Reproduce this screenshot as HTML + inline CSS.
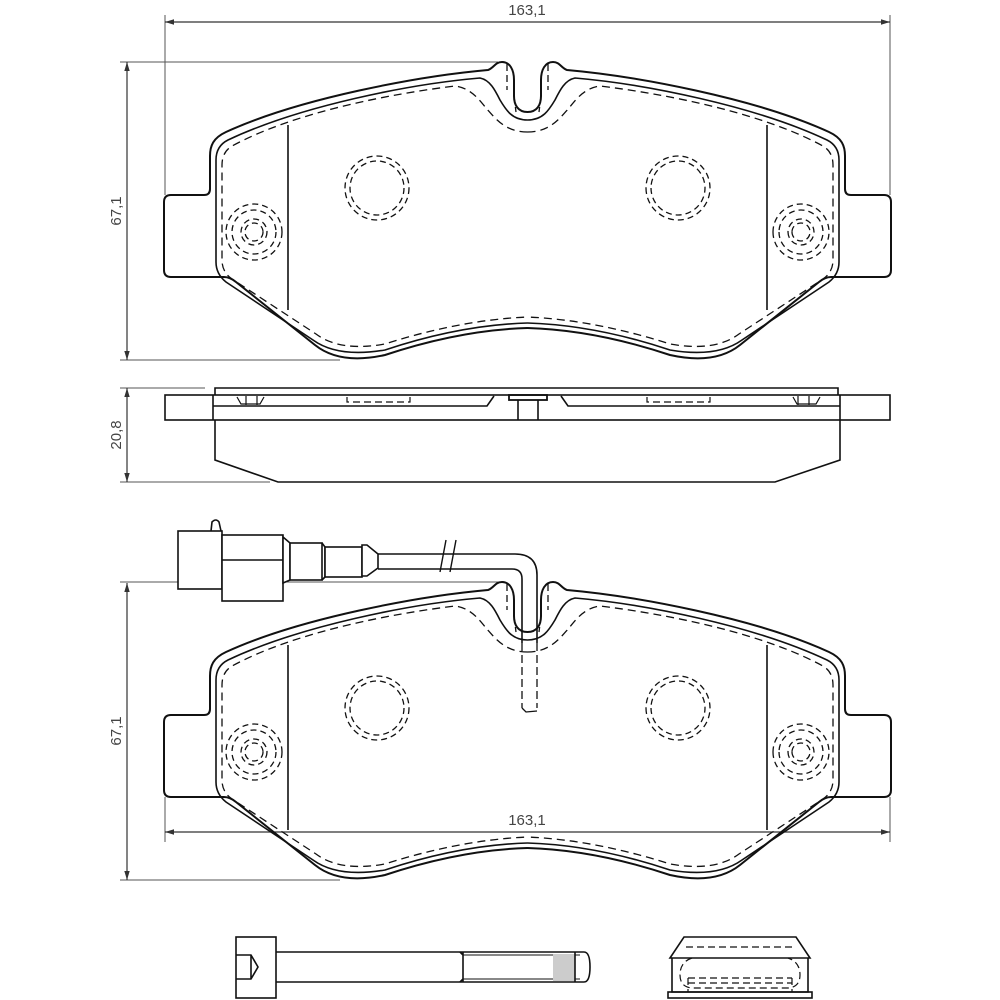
<!DOCTYPE html>
<html><head><meta charset="utf-8"><style>
html,body{margin:0;padding:0;background:#fff;}
svg{display:block;}
text{font-family:"Liberation Sans",sans-serif;font-size:15px;fill:#444;}
</style></head><body>
<svg width="1000" height="1000" viewBox="0 0 1000 1000" xmlns="http://www.w3.org/2000/svg">
<defs>
<marker id="ar" viewBox="0 0 10 10" refX="10" refY="5" markerWidth="9" markerHeight="9" orient="auto-start-reverse" markerUnits="userSpaceOnUse"><path d="M0,2 L10,5 L0,8 Z" fill="#333"/></marker>
<g id="half" fill="none" stroke="#111">
  <path stroke-width="2" d="M527.5,112 C518,112 514,105 514,96 L514,80 C514,70 510,62 502,62 C495,62 494,68 488,70 C420,76 300,98 226,132 C213,138 210,146 210,156 L210,189 Q210,195 204,195 L171,195 Q164,195 164,202 L164,270 Q164,277 171,277 L224,277 Q230,277 236,282 L315,345 Q340,365 385,355 Q460,330 527.5,328"/>
  <path stroke-width="1.6" d="M527.5,120 C512,120 506,110 500,100 C495,90 490,80 480,78 C410,84 300,106 228,140 Q216,146 216,160 L216,262 Q216,274 226,282 L313,340 Q338,358 385,350 Q460,325 527.5,323"/>
  <path stroke-width="1.3" stroke-dasharray="8,5" d="M527.5,132 C505,132 495,118 486,108 C478,98 470,88 455,86 C390,94 295,112 232,146 Q222,152 222,165 L222,260 Q222,272 232,279 L316,334 Q340,352 385,344 Q460,320 527.5,317"/>
  <path stroke-width="1.3" stroke-dasharray="7,4" d="M507,64 L507,90 M514,96 L516,112"/>
  <path stroke-width="1.6" d="M288,125 L288,310"/>
  <g stroke-width="1.3" stroke-dasharray="6,4">
    <circle cx="377" cy="188" r="32"/><circle cx="377" cy="188" r="27"/>
    <circle cx="254" cy="232" r="28"/><circle cx="254" cy="232" r="22"/>
    <circle cx="254" cy="232" r="13"/><circle cx="254" cy="232" r="9"/>
  </g>
</g>
<g id="pad">
  <use href="#half"/>
  <use href="#half" transform="matrix(-1 0 0 1 1055 0)"/>
</g>
</defs>

<g stroke="#555" stroke-width="1" fill="none">
  <path d="M165,15 L165,195 M890,15 L890,195"/>
  <path d="M120,62 L498,62 M120,360 L340,360"/>
  <path d="M120,388 L205,388 M120,482 L270,482"/>
  <path d="M120,582 L500,582 M120,880 L340,880"/>
  <path d="M165,797 L165,842 M890,797 L890,842"/>
</g>
<g stroke="#333" stroke-width="1.2" fill="none">
  <line x1="165" y1="22" x2="890" y2="22" marker-start="url(#ar)" marker-end="url(#ar)"/>
  <line x1="127" y1="62" x2="127" y2="360" marker-start="url(#ar)" marker-end="url(#ar)"/>
  <line x1="127" y1="388" x2="127" y2="482" marker-start="url(#ar)" marker-end="url(#ar)"/>
  <line x1="127" y1="583" x2="127" y2="880" marker-start="url(#ar)" marker-end="url(#ar)"/>
  <line x1="165" y1="832" x2="890" y2="832" marker-start="url(#ar)" marker-end="url(#ar)"/>
</g>
<text x="527" y="15" text-anchor="middle">163,1</text>
<text x="527" y="825" text-anchor="middle">163,1</text>
<text transform="translate(121,211) rotate(-90)" text-anchor="middle">67,1</text>
<text transform="translate(121,435) rotate(-90)" text-anchor="middle">20,8</text>
<text transform="translate(121,731) rotate(-90)" text-anchor="middle">67,1</text>

<use href="#pad"/>
<use href="#pad" transform="translate(0,520)"/>

<g fill="none" stroke="#111" stroke-width="1.6">
  <rect x="165" y="395" width="725" height="25"/>
  <path d="M215,395 L215,388 L838,388 L838,395"/>
  <path d="M213,395 L213,420 M840,395 L840,420"/>
  <path d="M215,420 L215,460 L278,482 L775,482 L840,460 L840,420"/>
  <path d="M213,406 L487,406 L494,396 M840,406 L568,406 L561,396"/>
  <path d="M518,400 L518,420 M538,400 L538,420"/>
  <rect x="509" y="395" width="38" height="5" stroke-width="1.8"/>
  <path d="M237,397 L241,404 L260,404 L264,397 M793,397 L797,404 L816,404 L820,397" stroke-width="1.2"/>
  <path d="M246,396 L246,405 M257,396 L257,405 M798,396 L798,405 M809,396 L809,405" stroke-width="1.2"/>
  <path d="M347,397 L347,402 L410,402 L410,397 M647,397 L647,402 L710,402 L710,397" stroke-width="1.2" stroke-dasharray="7,4"/>
</g>

<g fill="#fff" stroke="#111" stroke-width="1.6">
  <path d="M211,531 L212,522 Q216,518 219,522 L221,531" fill="none"/>
  <rect x="178" y="531" width="44" height="58"/>
  <rect x="222" y="535" width="61" height="66"/>
  <path d="M222,560 L283,560" fill="none"/>
  <path d="M283,537 L290,543 L290,580 L283,583 Z"/>
  <rect x="290" y="543" width="32" height="37"/>
  <path d="M322,543 L325,547 L325,577 L322,580" fill="none"/>
  <rect x="325" y="547" width="37" height="30"/>
  <path d="M362,545 L367,545 L378,554 L378,568 L367,576 L362,576 Z"/>
  <path d="M378,554 L515,554 Q537,554 537,575 L537,643 M378,569 L512,569 Q522,569 522,579 L522,643" fill="none"/>
  <path d="M440,572 L446,540 M450,572 L456,540" fill="none" stroke-width="1.4"/>
  <path d="M522,643 L522,708 M537,643 L537,708" fill="none" stroke-width="1.3" stroke-dasharray="8,4"/>
  <path d="M522,708 L526,712 L537,711" fill="none" stroke-width="1.3"/>
</g>

<g fill="none" stroke="#111" stroke-width="1.6">
  <rect x="236" y="937" width="40" height="61"/>
  <path d="M236,955 L251,955 L258,967 L251,979 L236,979 M251,955 L251,979"/>
  <path d="M276,952 L584,952 Q590,952 590,967 Q590,982 584,982 L276,982"/>
  <path d="M463,952 L463,982 M460,952 L463,955 M460,982 L463,979"/>
  <path d="M463,955 L580,955 M463,979 L580,979" stroke-width="1"/>
  <rect x="553" y="954" width="22" height="27" fill="#ccc" stroke="none"/>
  <path d="M575,952 L575,982"/>
</g>

<g fill="none" stroke="#111" stroke-width="1.6">
  <path d="M670,958 L684,937 L796,937 L810,958 Z"/>
  <path d="M672,958 L672,992 L808,992 L808,958"/>
  <rect x="668" y="992" width="144" height="6"/>
  <g stroke-width="1.2" stroke-dasharray="7,4">
    <path d="M686,947 L795,947"/>
    <path d="M692,958 Q680,962 680,975 Q680,987 692,988 L788,988 Q800,987 800,975 Q800,962 788,958"/>
    <path d="M688,978 L792,978 M688,978 L688,992 M792,978 L792,992 M688,983 L792,983"/>
  </g>
</g>
</svg>
</body></html>
